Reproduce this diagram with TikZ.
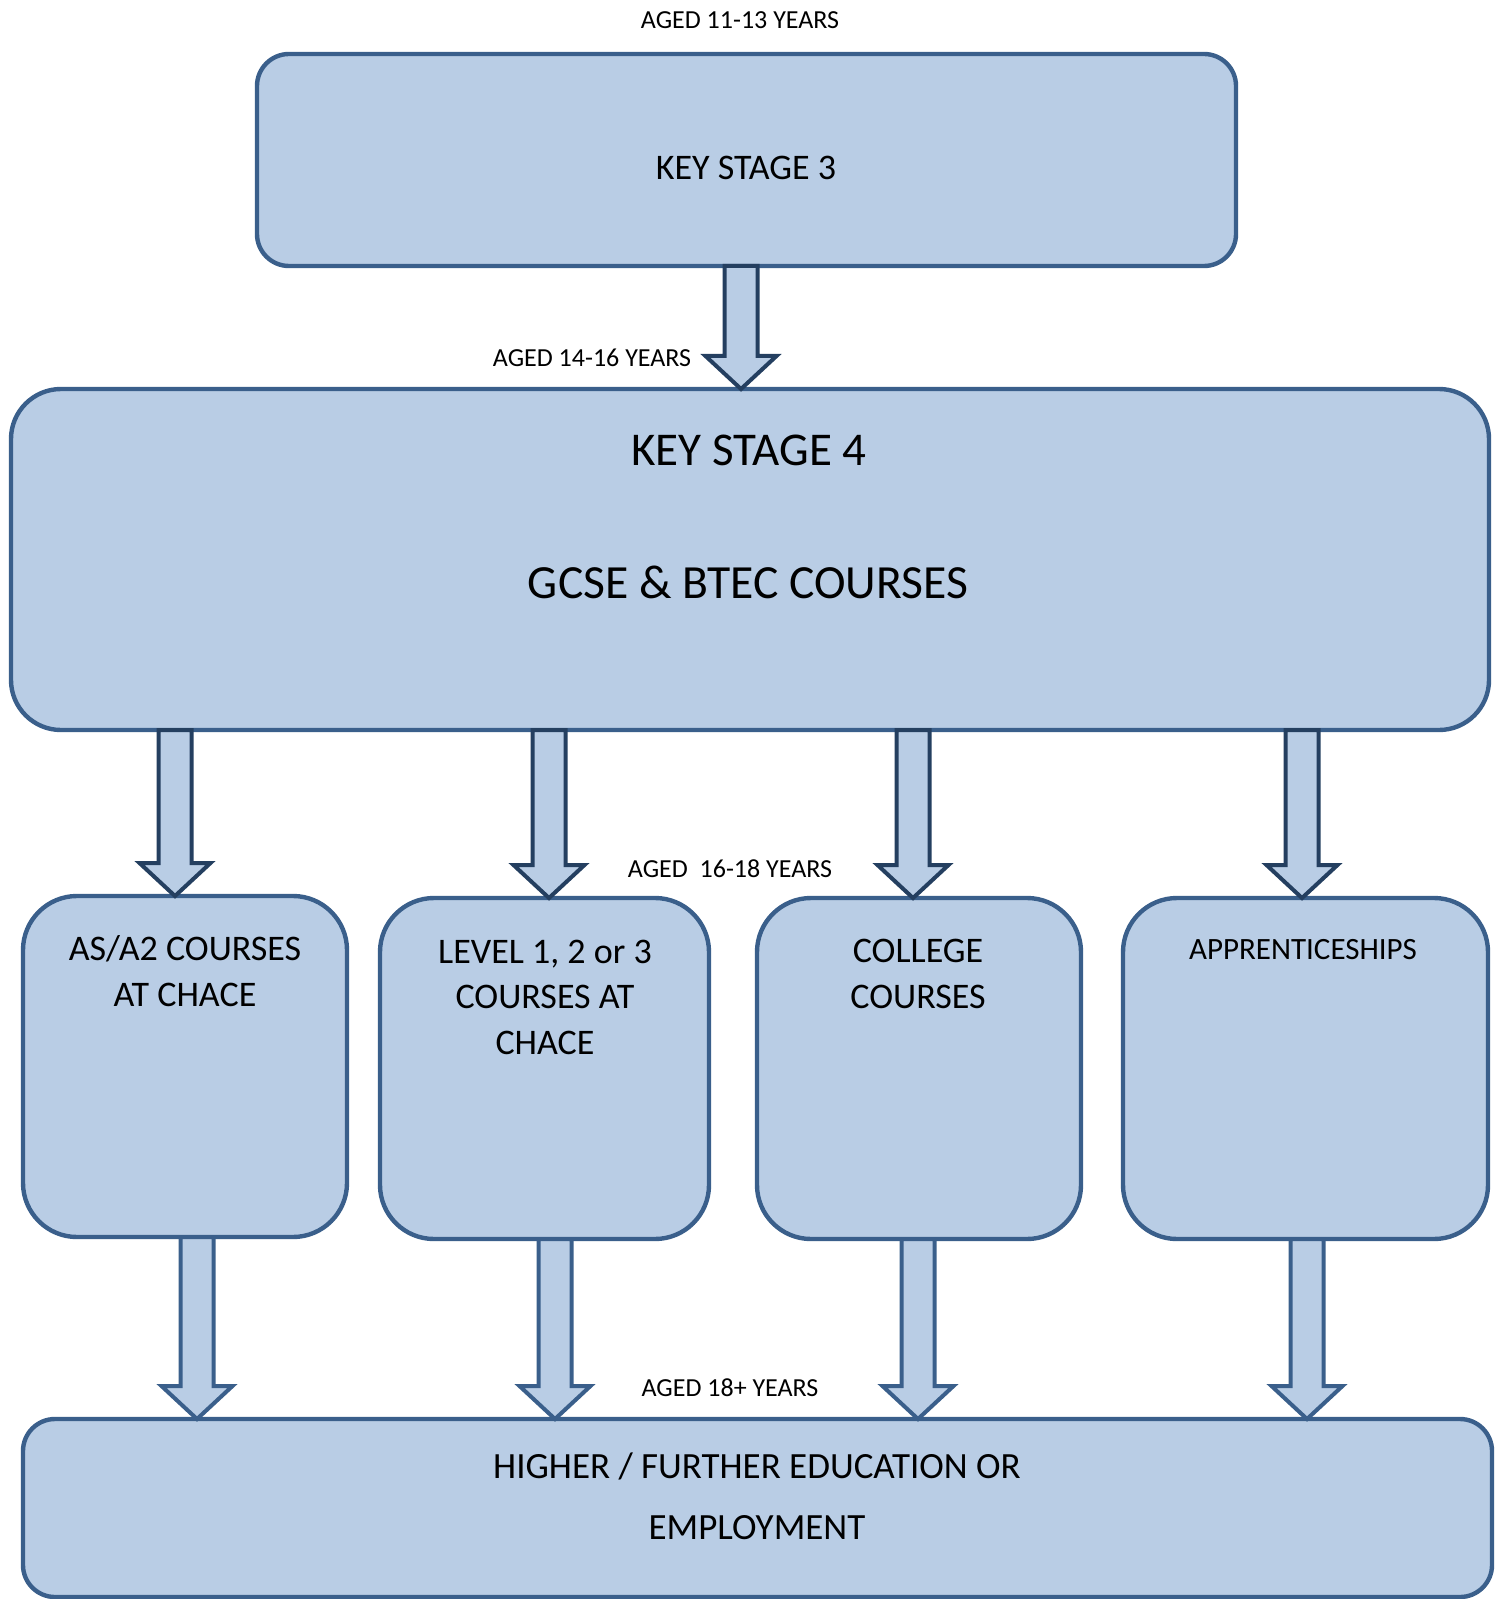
\documentclass[tikz,border=0pt]{standalone}
\usepackage{fontspec}
\setmainfont{Carlito}
\usetikzlibrary{calc}

\definecolor{boxfill}{HTML}{B9CDE5}
\definecolor{boxline}{HTML}{3A5F8B}
\definecolor{darkline}{HTML}{243F60}

% block arrow: x, from node, to node, outline colour
\newcommand{\stagearrow}[4]{%
  \coordinate (arrowx) at (#1,0);
  \coordinate (arrowtop) at (#2.south -| arrowx);
  \coordinate (arrowtip) at (#3.north -| arrowx);
  \draw [arrowbody,draw=#4] (arrowtip) -- ($(arrowtip)+(-35.5,-33)$) -- ($(arrowtip)+(-16.5,-33)$)
    -- ($(arrowtop)+(-16.5,0)$) -- ($(arrowtop)+(16.5,0)$) -- ($(arrowtip)+(16.5,-33)$)
    -- ($(arrowtip)+(35.5,-33)$) -- cycle;
}

\begin{document}
\begin{tikzpicture}[x=0.5pt,y=-0.5pt,
  stagebox/.style={draw=boxline,fill=boxfill,line width=2.2pt,rectangle,outer sep=0pt,inner sep=0pt},
  arrowbody/.style={fill=boxfill,line width=2pt,miter limit=10},
  agetext/.style={anchor=base,inner sep=0pt,font=\fontsize{13}{15}\selectfont},
  boxtext/.style={anchor=base,inner sep=0pt,align=center,font=\fontsize{18}{22.75}\selectfont}]
\useasboundingbox (0,0) rectangle (1502,1599);
% boxes
\node [stagebox,rounded corners=16pt,minimum width=489.5pt,minimum height=106pt] (ks3) at (746.5,160) {};
\node [stagebox,rounded corners=25pt,minimum width=739pt,minimum height=170.5pt] (ks4) at (750,559.5) {};
\node [stagebox,rounded corners=27pt,minimum width=162pt,minimum height=170.5pt] (asbox) at (185,1066.5) {};
\node [stagebox,rounded corners=27pt,minimum width=164.5pt,minimum height=170.5pt] (levelbox) at (544.5,1068.5) {};
\node [stagebox,rounded corners=27pt,minimum width=162pt,minimum height=170.5pt] (collegebox) at (919,1068.5) {};
\node [stagebox,rounded corners=27pt,minimum width=182.5pt,minimum height=170.5pt] (apprbox) at (1305.5,1068.5) {};
\node [stagebox,rounded corners=16pt,minimum width=734.5pt,minimum height=89pt] (hebox) at (757.5,1508) {};
% arrows
\stagearrow{741}{ks3}{ks4}{darkline}
\foreach \ax/\target in {175/asbox,549/levelbox,913/collegebox,1302/apprbox}
  \stagearrow{\ax}{ks4}{\target}{darkline};
\foreach \ax/\source in {197/asbox,555/levelbox,918/collegebox,1307/apprbox}
  \stagearrow{\ax}{\source}{hebox}{boxline};
% texts (base of a wrapped text is its last line)
\node [agetext] (age1) at (740,29) {AGED 11-13 YEARS};
\node [agetext] (age2) at (592,366) {AGED 14-16 YEARS};
\node [agetext] (age3) at (730,877) {AGED\ \ 16-18 YEARS};
\node [agetext] (age4) at (730,1396) {AGED 18+ YEARS};
\node [boxtext] (ks3text) at (746,180) {KEY STAGE 3};
\node [boxtext,font=\fontsize{23.5}{30}\selectfont] (ks4text) at (749,465) {KEY STAGE 4};
\node [boxtext,font=\fontsize{23.8}{30}\selectfont] (gcsetext) at (748,598) {GCSE \& BTEC COURSES};
\node [boxtext] (astext) at (185,1006) {AS/A2 COURSES\\AT CHACE};
\node [boxtext] (leveltext) at (545,1054) {LEVEL 1, 2 or 3\\COURSES AT\\CHACE};
\node [boxtext] (collegetext) at (918,1008) {COLLEGE\\COURSES};
\node [boxtext,font=\fontsize{15.5}{20}\selectfont] (apprtext) at (1303,959) {APPRENTICESHIPS};
\node [boxtext,font=\fontsize{18.5}{30.5}\selectfont] (hetext) at (757,1539) {HIGHER / FURTHER EDUCATION OR\\EMPLOYMENT};
\end{tikzpicture}
\end{document}
